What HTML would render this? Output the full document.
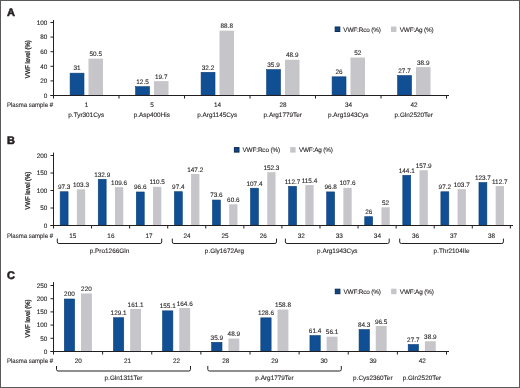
<!DOCTYPE html>
<html><head><meta charset="utf-8"><style>
html,body{margin:0;padding:0;background:#fff;}
svg{display:block;}
text{text-rendering:geometricPrecision;font-family:"Liberation Sans", sans-serif;fill:#231f20;stroke:#231f20;stroke-width:0.1;}
text.L{stroke-width:0.55;}
text.Y{stroke-width:0.3;}
</style></head><body>
<svg width="520" height="388" viewBox="0 0 520 388" style="will-change:transform">
<rect x="0" y="0" width="520" height="388" fill="#fff"/>
<text x="7.00" y="15.80" text-anchor="start" font-size="11" font-weight="bold" class="L">A</text>
<line x1="50.50" y1="95.50" x2="53.50" y2="95.50" stroke="#231f20" stroke-width="1"/>
<text x="47.40" y="97.80" text-anchor="end" font-size="6.4" font-weight="normal" >0</text>
<line x1="50.50" y1="80.90" x2="53.50" y2="80.90" stroke="#231f20" stroke-width="1"/>
<text x="47.40" y="83.20" text-anchor="end" font-size="6.4" font-weight="normal" >20</text>
<line x1="50.50" y1="66.30" x2="53.50" y2="66.30" stroke="#231f20" stroke-width="1"/>
<text x="47.40" y="68.60" text-anchor="end" font-size="6.4" font-weight="normal" >40</text>
<line x1="50.50" y1="51.70" x2="53.50" y2="51.70" stroke="#231f20" stroke-width="1"/>
<text x="47.40" y="54.00" text-anchor="end" font-size="6.4" font-weight="normal" >60</text>
<line x1="50.50" y1="37.10" x2="53.50" y2="37.10" stroke="#231f20" stroke-width="1"/>
<text x="47.40" y="39.40" text-anchor="end" font-size="6.4" font-weight="normal" >80</text>
<line x1="50.50" y1="22.50" x2="53.50" y2="22.50" stroke="#231f20" stroke-width="1"/>
<text x="47.40" y="24.80" text-anchor="end" font-size="6.4" font-weight="normal" >100</text>
<text x="0" y="0" text-anchor="middle" font-size="6.9" class="Y" transform="translate(30.4,59.3) rotate(-90) scale(0.86,1)">VWF level (%)</text>
<line x1="119.00" y1="95.50" x2="119.00" y2="98.50" stroke="#231f20" stroke-width="1"/>
<rect x="70.10" y="73.17" width="13.90" height="22.03" fill="#104f93" stroke="#0b3f78" stroke-width="0.6"/>
<text x="77.05" y="70.47" text-anchor="middle" font-size="6.4" font-weight="normal" >31</text>
<rect x="88.50" y="58.63" width="14.50" height="36.87" fill="#c6c6ca"/>
<text x="95.75" y="56.23" text-anchor="middle" font-size="6.4" font-weight="normal" >50.5</text>
<text x="86.55" y="107.40" text-anchor="middle" font-size="6.4" font-weight="normal" >1</text>
<line x1="184.50" y1="95.50" x2="184.50" y2="98.50" stroke="#231f20" stroke-width="1"/>
<rect x="135.60" y="86.67" width="13.90" height="8.53" fill="#104f93" stroke="#0b3f78" stroke-width="0.6"/>
<text x="142.55" y="83.97" text-anchor="middle" font-size="6.4" font-weight="normal" >12.5</text>
<rect x="154.00" y="81.12" width="14.50" height="14.38" fill="#c6c6ca"/>
<text x="161.25" y="78.72" text-anchor="middle" font-size="6.4" font-weight="normal" >19.7</text>
<text x="152.05" y="107.40" text-anchor="middle" font-size="6.4" font-weight="normal" >5</text>
<line x1="250.00" y1="95.50" x2="250.00" y2="98.50" stroke="#231f20" stroke-width="1"/>
<rect x="201.10" y="72.29" width="13.90" height="22.91" fill="#104f93" stroke="#0b3f78" stroke-width="0.6"/>
<text x="208.05" y="69.59" text-anchor="middle" font-size="6.4" font-weight="normal" >32.2</text>
<rect x="219.50" y="30.68" width="14.50" height="64.82" fill="#c6c6ca"/>
<text x="226.75" y="28.28" text-anchor="middle" font-size="6.4" font-weight="normal" >88.8</text>
<text x="217.55" y="107.40" text-anchor="middle" font-size="6.4" font-weight="normal" >14</text>
<line x1="315.50" y1="95.50" x2="315.50" y2="98.50" stroke="#231f20" stroke-width="1"/>
<rect x="266.60" y="69.59" width="13.90" height="25.61" fill="#104f93" stroke="#0b3f78" stroke-width="0.6"/>
<text x="273.55" y="66.89" text-anchor="middle" font-size="6.4" font-weight="normal" >35.9</text>
<rect x="285.00" y="59.80" width="14.50" height="35.70" fill="#c6c6ca"/>
<text x="292.25" y="57.40" text-anchor="middle" font-size="6.4" font-weight="normal" >48.9</text>
<text x="283.05" y="107.40" text-anchor="middle" font-size="6.4" font-weight="normal" >28</text>
<line x1="381.00" y1="95.50" x2="381.00" y2="98.50" stroke="#231f20" stroke-width="1"/>
<rect x="332.10" y="76.82" width="13.90" height="18.38" fill="#104f93" stroke="#0b3f78" stroke-width="0.6"/>
<text x="339.05" y="74.12" text-anchor="middle" font-size="6.4" font-weight="normal" >26</text>
<rect x="350.50" y="57.54" width="14.50" height="37.96" fill="#c6c6ca"/>
<text x="357.75" y="55.14" text-anchor="middle" font-size="6.4" font-weight="normal" >52</text>
<text x="348.55" y="107.40" text-anchor="middle" font-size="6.4" font-weight="normal" >34</text>
<line x1="446.50" y1="95.50" x2="446.50" y2="98.50" stroke="#231f20" stroke-width="1"/>
<rect x="397.60" y="75.58" width="13.90" height="19.62" fill="#104f93" stroke="#0b3f78" stroke-width="0.6"/>
<text x="404.55" y="72.88" text-anchor="middle" font-size="6.4" font-weight="normal" >27.7</text>
<rect x="416.00" y="67.10" width="14.50" height="28.40" fill="#c6c6ca"/>
<text x="423.25" y="64.70" text-anchor="middle" font-size="6.4" font-weight="normal" >38.9</text>
<text x="414.05" y="107.40" text-anchor="middle" font-size="6.4" font-weight="normal" >42</text>
<text x="7.00" y="107.10" text-anchor="start" font-size="6.5" font-weight="normal" textLength="46.0" lengthAdjust="spacingAndGlyphs">Plasma sample #</text>
<text x="86.25" y="117.40" text-anchor="middle" font-size="6.4" font-weight="normal" >p.Tyr301Cys</text>
<text x="151.75" y="117.40" text-anchor="middle" font-size="6.4" font-weight="normal" >p.Asp400His</text>
<text x="217.25" y="117.40" text-anchor="middle" font-size="6.4" font-weight="normal" >p.Arg1145Cys</text>
<text x="282.75" y="117.40" text-anchor="middle" font-size="6.4" font-weight="normal" >p.Arg1779Ter</text>
<text x="348.25" y="117.40" text-anchor="middle" font-size="6.4" font-weight="normal" >p.Arg1943Cys</text>
<text x="413.75" y="117.40" text-anchor="middle" font-size="6.4" font-weight="normal" >p.Gln2520Ter</text>
<line x1="53.50" y1="20.00" x2="53.50" y2="98.50" stroke="#231f20" stroke-width="1"/>
<line x1="50.50" y1="95.50" x2="449.00" y2="95.50" stroke="#231f20" stroke-width="1"/>
<rect x="335.20" y="27.00" width="4.60" height="4.50" fill="#0f4685" stroke="#0a2b52" stroke-width="1.0"/>
<text x="343.30" y="31.60" text-anchor="start" font-size="6.4" font-weight="normal" textLength="37.6">VWF:Rco (%)</text>
<rect x="391.00" y="26.50" width="5.40" height="5.50" fill="#c6c6ca"/>
<text x="399.70" y="31.60" text-anchor="start" font-size="6.4" font-weight="normal" textLength="34.0">VWF:Ag (%)</text>
<text x="7.00" y="144.20" text-anchor="start" font-size="11" font-weight="bold" class="L">B</text>
<line x1="50.50" y1="225.50" x2="53.50" y2="225.50" stroke="#231f20" stroke-width="1"/>
<text x="47.40" y="227.80" text-anchor="end" font-size="6.4" font-weight="normal" >0</text>
<line x1="50.50" y1="208.00" x2="53.50" y2="208.00" stroke="#231f20" stroke-width="1"/>
<text x="47.40" y="210.30" text-anchor="end" font-size="6.4" font-weight="normal" >50</text>
<line x1="50.50" y1="190.50" x2="53.50" y2="190.50" stroke="#231f20" stroke-width="1"/>
<text x="47.40" y="192.80" text-anchor="end" font-size="6.4" font-weight="normal" >100</text>
<line x1="50.50" y1="173.00" x2="53.50" y2="173.00" stroke="#231f20" stroke-width="1"/>
<text x="47.40" y="175.30" text-anchor="end" font-size="6.4" font-weight="normal" >150</text>
<line x1="50.50" y1="155.50" x2="53.50" y2="155.50" stroke="#231f20" stroke-width="1"/>
<text x="47.40" y="157.80" text-anchor="end" font-size="6.4" font-weight="normal" >200</text>
<text x="0" y="0" text-anchor="middle" font-size="6.9" class="Y" transform="translate(30.4,190.6) rotate(-90) scale(0.86,1)">VWF level (%)</text>
<line x1="91.57" y1="225.50" x2="91.57" y2="228.50" stroke="#231f20" stroke-width="1"/>
<rect x="60.18" y="191.75" width="7.90" height="33.45" fill="#104f93" stroke="#0b3f78" stroke-width="0.6"/>
<text x="64.13" y="189.04" text-anchor="middle" font-size="6.4" font-weight="normal" >97.3</text>
<rect x="76.88" y="189.34" width="8.30" height="36.15" fill="#c6c6ca"/>
<text x="81.03" y="186.94" text-anchor="middle" font-size="6.4" font-weight="normal" >103.3</text>
<text x="72.83" y="237.80" text-anchor="middle" font-size="6.4" font-weight="normal" >15</text>
<line x1="129.64" y1="225.50" x2="129.64" y2="228.50" stroke="#231f20" stroke-width="1"/>
<rect x="98.25" y="179.29" width="7.90" height="45.91" fill="#104f93" stroke="#0b3f78" stroke-width="0.6"/>
<text x="102.20" y="176.59" text-anchor="middle" font-size="6.4" font-weight="normal" >132.9</text>
<rect x="114.95" y="187.14" width="8.30" height="38.36" fill="#c6c6ca"/>
<text x="119.10" y="184.74" text-anchor="middle" font-size="6.4" font-weight="normal" >109.6</text>
<text x="110.90" y="237.80" text-anchor="middle" font-size="6.4" font-weight="normal" >16</text>
<line x1="167.71" y1="225.50" x2="167.71" y2="228.50" stroke="#231f20" stroke-width="1"/>
<rect x="136.32" y="191.99" width="7.90" height="33.21" fill="#104f93" stroke="#0b3f78" stroke-width="0.6"/>
<text x="140.27" y="189.29" text-anchor="middle" font-size="6.4" font-weight="normal" >96.6</text>
<rect x="153.02" y="186.82" width="8.30" height="38.67" fill="#c6c6ca"/>
<text x="157.17" y="184.42" text-anchor="middle" font-size="6.4" font-weight="normal" >110.5</text>
<text x="148.97" y="237.80" text-anchor="middle" font-size="6.4" font-weight="normal" >17</text>
<line x1="205.78" y1="225.50" x2="205.78" y2="228.50" stroke="#231f20" stroke-width="1"/>
<rect x="174.40" y="191.71" width="7.90" height="33.49" fill="#104f93" stroke="#0b3f78" stroke-width="0.6"/>
<text x="178.34" y="189.01" text-anchor="middle" font-size="6.4" font-weight="normal" >97.4</text>
<rect x="191.09" y="173.98" width="8.30" height="51.52" fill="#c6c6ca"/>
<text x="195.25" y="171.58" text-anchor="middle" font-size="6.4" font-weight="normal" >147.2</text>
<text x="187.05" y="237.80" text-anchor="middle" font-size="6.4" font-weight="normal" >24</text>
<line x1="243.85" y1="225.50" x2="243.85" y2="228.50" stroke="#231f20" stroke-width="1"/>
<rect x="212.47" y="200.04" width="7.90" height="25.16" fill="#104f93" stroke="#0b3f78" stroke-width="0.6"/>
<text x="216.41" y="197.34" text-anchor="middle" font-size="6.4" font-weight="normal" >73.6</text>
<rect x="229.16" y="204.29" width="8.30" height="21.21" fill="#c6c6ca"/>
<text x="233.31" y="201.89" text-anchor="middle" font-size="6.4" font-weight="normal" >60.6</text>
<text x="225.12" y="237.80" text-anchor="middle" font-size="6.4" font-weight="normal" >25</text>
<line x1="281.92" y1="225.50" x2="281.92" y2="228.50" stroke="#231f20" stroke-width="1"/>
<rect x="250.53" y="188.21" width="7.90" height="36.99" fill="#104f93" stroke="#0b3f78" stroke-width="0.6"/>
<text x="254.48" y="185.51" text-anchor="middle" font-size="6.4" font-weight="normal" >107.4</text>
<rect x="267.24" y="172.19" width="8.30" height="53.30" fill="#c6c6ca"/>
<text x="271.38" y="169.79" text-anchor="middle" font-size="6.4" font-weight="normal" >152.3</text>
<text x="263.19" y="237.80" text-anchor="middle" font-size="6.4" font-weight="normal" >26</text>
<line x1="319.99" y1="225.50" x2="319.99" y2="228.50" stroke="#231f20" stroke-width="1"/>
<rect x="288.61" y="186.36" width="7.90" height="38.84" fill="#104f93" stroke="#0b3f78" stroke-width="0.6"/>
<text x="292.56" y="183.66" text-anchor="middle" font-size="6.4" font-weight="normal" >112.7</text>
<rect x="305.31" y="185.11" width="8.30" height="40.39" fill="#c6c6ca"/>
<text x="309.46" y="182.71" text-anchor="middle" font-size="6.4" font-weight="normal" >115.4</text>
<text x="301.26" y="237.80" text-anchor="middle" font-size="6.4" font-weight="normal" >32</text>
<line x1="358.06" y1="225.50" x2="358.06" y2="228.50" stroke="#231f20" stroke-width="1"/>
<rect x="326.68" y="191.92" width="7.90" height="33.28" fill="#104f93" stroke="#0b3f78" stroke-width="0.6"/>
<text x="330.63" y="189.22" text-anchor="middle" font-size="6.4" font-weight="normal" >96.8</text>
<rect x="343.38" y="187.84" width="8.30" height="37.66" fill="#c6c6ca"/>
<text x="347.53" y="185.44" text-anchor="middle" font-size="6.4" font-weight="normal" >107.6</text>
<text x="339.33" y="237.80" text-anchor="middle" font-size="6.4" font-weight="normal" >33</text>
<line x1="396.13" y1="225.50" x2="396.13" y2="228.50" stroke="#231f20" stroke-width="1"/>
<rect x="364.75" y="216.70" width="7.90" height="8.50" fill="#104f93" stroke="#0b3f78" stroke-width="0.6"/>
<text x="368.70" y="214.00" text-anchor="middle" font-size="6.4" font-weight="normal" >26</text>
<rect x="381.45" y="207.30" width="8.30" height="18.20" fill="#c6c6ca"/>
<text x="385.60" y="204.90" text-anchor="middle" font-size="6.4" font-weight="normal" >52</text>
<text x="377.40" y="237.80" text-anchor="middle" font-size="6.4" font-weight="normal" >34</text>
<line x1="434.20" y1="225.50" x2="434.20" y2="228.50" stroke="#231f20" stroke-width="1"/>
<rect x="402.82" y="175.37" width="7.90" height="49.83" fill="#104f93" stroke="#0b3f78" stroke-width="0.6"/>
<text x="406.77" y="172.66" text-anchor="middle" font-size="6.4" font-weight="normal" >144.1</text>
<rect x="419.52" y="170.24" width="8.30" height="55.27" fill="#c6c6ca"/>
<text x="423.67" y="167.84" text-anchor="middle" font-size="6.4" font-weight="normal" >157.9</text>
<text x="415.47" y="237.80" text-anchor="middle" font-size="6.4" font-weight="normal" >36</text>
<line x1="472.27" y1="225.50" x2="472.27" y2="228.50" stroke="#231f20" stroke-width="1"/>
<rect x="440.89" y="191.78" width="7.90" height="33.42" fill="#104f93" stroke="#0b3f78" stroke-width="0.6"/>
<text x="444.84" y="189.08" text-anchor="middle" font-size="6.4" font-weight="normal" >97.2</text>
<rect x="457.59" y="189.20" width="8.30" height="36.30" fill="#c6c6ca"/>
<text x="461.74" y="186.80" text-anchor="middle" font-size="6.4" font-weight="normal" >103.7</text>
<text x="453.54" y="237.80" text-anchor="middle" font-size="6.4" font-weight="normal" >37</text>
<line x1="510.34" y1="225.50" x2="510.34" y2="228.50" stroke="#231f20" stroke-width="1"/>
<rect x="478.96" y="182.50" width="7.90" height="42.70" fill="#104f93" stroke="#0b3f78" stroke-width="0.6"/>
<text x="482.91" y="179.80" text-anchor="middle" font-size="6.4" font-weight="normal" >123.7</text>
<rect x="495.66" y="186.06" width="8.30" height="39.45" fill="#c6c6ca"/>
<text x="499.81" y="183.66" text-anchor="middle" font-size="6.4" font-weight="normal" >112.7</text>
<text x="491.61" y="237.80" text-anchor="middle" font-size="6.4" font-weight="normal" >38</text>
<text x="7.00" y="237.50" text-anchor="start" font-size="6.5" font-weight="normal" textLength="46.0" lengthAdjust="spacingAndGlyphs">Plasma sample #</text>
<path d="M57.30,238.6 V241.90 Q57.30,243.5 58.90,243.5 H160.10 Q161.70,243.5 161.70,241.90 V238.6" fill="none" stroke="#231f20" stroke-width="1"/>
<text x="109.50" y="252.60" text-anchor="middle" font-size="6.4" font-weight="normal" >p.Pro1266Gln</text>
<path d="M172.30,238.6 V241.90 Q172.30,243.5 173.90,243.5 H274.90 Q276.50,243.5 276.50,241.90 V238.6" fill="none" stroke="#231f20" stroke-width="1"/>
<text x="224.40" y="252.60" text-anchor="middle" font-size="6.4" font-weight="normal" >p.Gly1672Arg</text>
<path d="M285.40,238.6 V241.90 Q285.40,243.5 287.00,243.5 H387.60 Q389.20,243.5 389.20,241.90 V238.6" fill="none" stroke="#231f20" stroke-width="1"/>
<text x="337.30" y="252.60" text-anchor="middle" font-size="6.4" font-weight="normal" >p.Arg1943Cys</text>
<path d="M399.70,238.6 V241.90 Q399.70,243.5 401.30,243.5 H501.80 Q503.40,243.5 503.40,241.90 V238.6" fill="none" stroke="#231f20" stroke-width="1"/>
<text x="451.55" y="252.60" text-anchor="middle" font-size="6.4" font-weight="normal" >p.Thr2104Ile</text>
<line x1="53.50" y1="152.60" x2="53.50" y2="228.50" stroke="#231f20" stroke-width="1"/>
<line x1="50.50" y1="225.50" x2="513.00" y2="225.50" stroke="#231f20" stroke-width="1"/>
<rect x="234.40" y="147.60" width="4.60" height="4.50" fill="#0f4685" stroke="#0a2b52" stroke-width="1.0"/>
<text x="242.50" y="152.20" text-anchor="start" font-size="6.4" font-weight="normal" textLength="37.6">VWF:Rco (%)</text>
<rect x="290.20" y="147.10" width="5.40" height="5.50" fill="#c6c6ca"/>
<text x="298.90" y="152.20" text-anchor="start" font-size="6.4" font-weight="normal" textLength="34.0">VWF:Ag (%)</text>
<text x="7.00" y="278.50" text-anchor="start" font-size="11" font-weight="bold" class="L">C</text>
<line x1="50.50" y1="351.50" x2="53.50" y2="351.50" stroke="#231f20" stroke-width="1"/>
<text x="47.40" y="353.80" text-anchor="end" font-size="6.4" font-weight="normal" >0</text>
<line x1="50.50" y1="338.30" x2="53.50" y2="338.30" stroke="#231f20" stroke-width="1"/>
<text x="47.40" y="340.60" text-anchor="end" font-size="6.4" font-weight="normal" >50</text>
<line x1="50.50" y1="325.10" x2="53.50" y2="325.10" stroke="#231f20" stroke-width="1"/>
<text x="47.40" y="327.40" text-anchor="end" font-size="6.4" font-weight="normal" >100</text>
<line x1="50.50" y1="311.90" x2="53.50" y2="311.90" stroke="#231f20" stroke-width="1"/>
<text x="47.40" y="314.20" text-anchor="end" font-size="6.4" font-weight="normal" >150</text>
<line x1="50.50" y1="298.70" x2="53.50" y2="298.70" stroke="#231f20" stroke-width="1"/>
<text x="47.40" y="301.00" text-anchor="end" font-size="6.4" font-weight="normal" >200</text>
<line x1="50.50" y1="285.50" x2="53.50" y2="285.50" stroke="#231f20" stroke-width="1"/>
<text x="47.40" y="287.80" text-anchor="end" font-size="6.4" font-weight="normal" >250</text>
<text x="0" y="0" text-anchor="middle" font-size="6.9" class="Y" transform="translate(30.4,318.5) rotate(-90) scale(0.86,1)">VWF level (%)</text>
<line x1="102.62" y1="351.50" x2="102.62" y2="354.50" stroke="#231f20" stroke-width="1"/>
<rect x="64.31" y="299.00" width="10.30" height="52.20" fill="#104f93" stroke="#0b3f78" stroke-width="0.6"/>
<text x="69.46" y="296.30" text-anchor="middle" font-size="6.4" font-weight="normal" >200</text>
<rect x="81.01" y="293.42" width="10.90" height="58.08" fill="#c6c6ca"/>
<text x="86.46" y="291.02" text-anchor="middle" font-size="6.4" font-weight="normal" >220</text>
<text x="78.36" y="362.80" text-anchor="middle" font-size="6.4" font-weight="normal" >20</text>
<line x1="151.75" y1="351.50" x2="151.75" y2="354.50" stroke="#231f20" stroke-width="1"/>
<rect x="113.44" y="317.72" width="10.30" height="33.48" fill="#104f93" stroke="#0b3f78" stroke-width="0.6"/>
<text x="118.59" y="315.02" text-anchor="middle" font-size="6.4" font-weight="normal" >129.1</text>
<rect x="130.14" y="308.97" width="10.90" height="42.53" fill="#c6c6ca"/>
<text x="135.59" y="306.57" text-anchor="middle" font-size="6.4" font-weight="normal" >161.1</text>
<text x="127.49" y="362.80" text-anchor="middle" font-size="6.4" font-weight="normal" >21</text>
<line x1="200.88" y1="351.50" x2="200.88" y2="354.50" stroke="#231f20" stroke-width="1"/>
<rect x="162.56" y="310.85" width="10.30" height="40.35" fill="#104f93" stroke="#0b3f78" stroke-width="0.6"/>
<text x="167.71" y="308.15" text-anchor="middle" font-size="6.4" font-weight="normal" >155.1</text>
<rect x="179.26" y="308.05" width="10.90" height="43.45" fill="#c6c6ca"/>
<text x="184.71" y="305.65" text-anchor="middle" font-size="6.4" font-weight="normal" >164.6</text>
<text x="176.61" y="362.80" text-anchor="middle" font-size="6.4" font-weight="normal" >22</text>
<line x1="250.00" y1="351.50" x2="250.00" y2="354.50" stroke="#231f20" stroke-width="1"/>
<rect x="211.69" y="342.32" width="10.30" height="8.88" fill="#104f93" stroke="#0b3f78" stroke-width="0.6"/>
<text x="216.84" y="339.62" text-anchor="middle" font-size="6.4" font-weight="normal" >35.9</text>
<rect x="228.39" y="338.59" width="10.90" height="12.91" fill="#c6c6ca"/>
<text x="233.84" y="336.19" text-anchor="middle" font-size="6.4" font-weight="normal" >48.9</text>
<text x="225.74" y="362.80" text-anchor="middle" font-size="6.4" font-weight="normal" >28</text>
<line x1="299.12" y1="351.50" x2="299.12" y2="354.50" stroke="#231f20" stroke-width="1"/>
<rect x="260.81" y="317.85" width="10.30" height="33.35" fill="#104f93" stroke="#0b3f78" stroke-width="0.6"/>
<text x="265.96" y="315.15" text-anchor="middle" font-size="6.4" font-weight="normal" >128.6</text>
<rect x="277.51" y="309.58" width="10.90" height="41.92" fill="#c6c6ca"/>
<text x="282.96" y="307.18" text-anchor="middle" font-size="6.4" font-weight="normal" >158.8</text>
<text x="274.86" y="362.80" text-anchor="middle" font-size="6.4" font-weight="normal" >29</text>
<line x1="348.25" y1="351.50" x2="348.25" y2="354.50" stroke="#231f20" stroke-width="1"/>
<rect x="309.94" y="335.59" width="10.30" height="15.61" fill="#104f93" stroke="#0b3f78" stroke-width="0.6"/>
<text x="315.09" y="332.89" text-anchor="middle" font-size="6.4" font-weight="normal" >61.4</text>
<rect x="326.64" y="336.69" width="10.90" height="14.81" fill="#c6c6ca"/>
<text x="332.09" y="334.29" text-anchor="middle" font-size="6.4" font-weight="normal" >56.1</text>
<text x="323.99" y="362.80" text-anchor="middle" font-size="6.4" font-weight="normal" >30</text>
<line x1="397.38" y1="351.50" x2="397.38" y2="354.50" stroke="#231f20" stroke-width="1"/>
<rect x="359.06" y="329.54" width="10.30" height="21.66" fill="#104f93" stroke="#0b3f78" stroke-width="0.6"/>
<text x="364.21" y="326.84" text-anchor="middle" font-size="6.4" font-weight="normal" >84.3</text>
<rect x="375.76" y="326.02" width="10.90" height="25.48" fill="#c6c6ca"/>
<text x="381.21" y="323.62" text-anchor="middle" font-size="6.4" font-weight="normal" >96.5</text>
<text x="373.11" y="362.80" text-anchor="middle" font-size="6.4" font-weight="normal" >39</text>
<line x1="446.50" y1="351.50" x2="446.50" y2="354.50" stroke="#231f20" stroke-width="1"/>
<rect x="408.19" y="344.49" width="10.30" height="6.71" fill="#104f93" stroke="#0b3f78" stroke-width="0.6"/>
<text x="413.34" y="341.79" text-anchor="middle" font-size="6.4" font-weight="normal" >27.7</text>
<rect x="424.89" y="341.23" width="10.90" height="10.27" fill="#c6c6ca"/>
<text x="430.34" y="338.83" text-anchor="middle" font-size="6.4" font-weight="normal" >38.9</text>
<text x="422.24" y="362.80" text-anchor="middle" font-size="6.4" font-weight="normal" >42</text>
<text x="7.00" y="362.50" text-anchor="start" font-size="6.5" font-weight="normal" textLength="46.0" lengthAdjust="spacingAndGlyphs">Plasma sample #</text>
<path d="M56.50,366.0 V369.40 Q56.50,371.0 58.10,371.0 H188.90 Q190.50,371.0 190.50,369.40 V366.0" fill="none" stroke="#231f20" stroke-width="1"/>
<text x="123.50" y="380.20" text-anchor="middle" font-size="6.4" font-weight="normal" >p.Gln1311Ter</text>
<path d="M207.80,366.0 V369.40 Q207.80,371.0 209.40,371.0 H339.70 Q341.30,371.0 341.30,369.40 V366.0" fill="none" stroke="#231f20" stroke-width="1"/>
<text x="274.55" y="380.20" text-anchor="middle" font-size="6.4" font-weight="normal" >p.Arg1779Ter</text>
<text x="372.81" y="380.20" text-anchor="middle" font-size="6.4" font-weight="normal" >p.Cys2360Ter</text>
<text x="421.94" y="380.20" text-anchor="middle" font-size="6.4" font-weight="normal" >p.Gln2520Ter</text>
<line x1="53.50" y1="282.10" x2="53.50" y2="354.50" stroke="#231f20" stroke-width="1"/>
<line x1="50.50" y1="351.50" x2="449.00" y2="351.50" stroke="#231f20" stroke-width="1"/>
<rect x="335.30" y="289.20" width="4.60" height="4.50" fill="#0f4685" stroke="#0a2b52" stroke-width="1.0"/>
<text x="343.40" y="293.80" text-anchor="start" font-size="6.4" font-weight="normal" textLength="37.6">VWF:Rco (%)</text>
<rect x="391.10" y="288.70" width="5.40" height="5.50" fill="#c6c6ca"/>
<text x="399.80" y="293.80" text-anchor="start" font-size="6.4" font-weight="normal" textLength="34.0">VWF:Ag (%)</text>
<rect x="0.5" y="0.5" width="519" height="387" fill="none" stroke="#5a5a5a" stroke-width="1"/>
</svg>
</body></html>
